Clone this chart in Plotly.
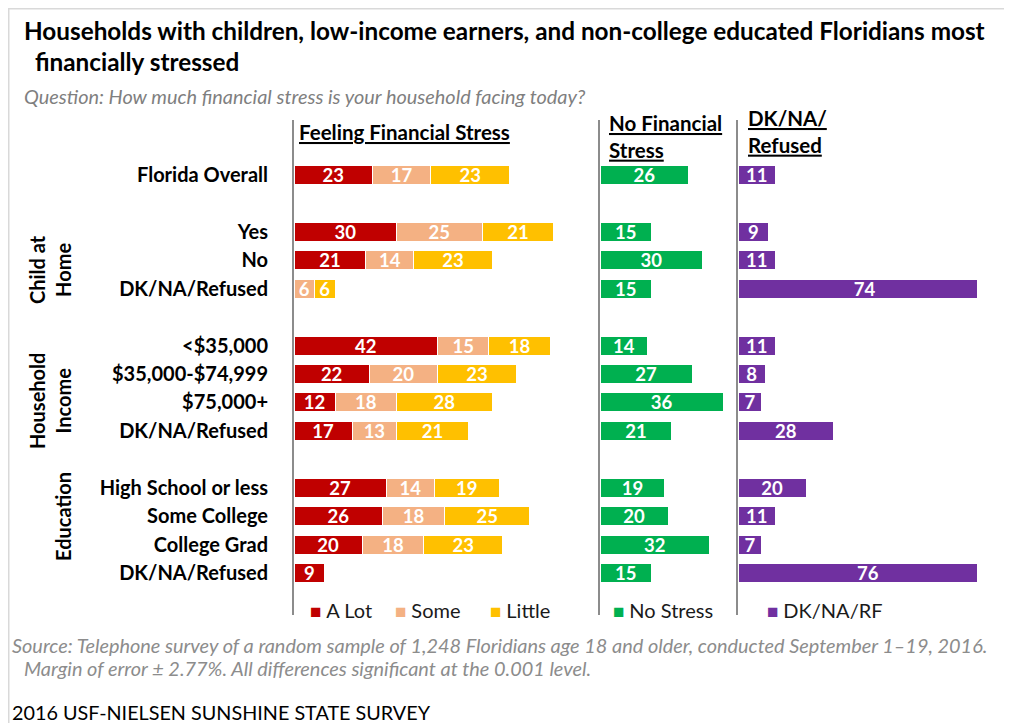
import plotly.graph_objects as go

# ---------------- data ----------------
groups = ["", "Child at Home", "Household Income", "Education"]
group_members = [
    ["Florida Overall"],
    ["Yes", "No", "DK/NA/Refused"],
    ["<$35,000", "$35,000-$74,999", "$75,000+", "DK/NA/Refused"],
    ["High School or less", "Some College", "College Grad", "DK/NA/Refused"],
]
a_lot = [23, 30, 21, 0, 42, 22, 12, 17, 27, 26, 20, 9]
some = [17, 25, 14, 6, 15, 20, 18, 13, 14, 18, 18, 0]
little = [23, 21, 23, 6, 18, 23, 28, 21, 19, 25, 23, 0]
no_stress = [26, 15, 30, 15, 14, 27, 36, 21, 19, 20, 32, 15]
dk_na_rf = [11, 9, 11, 74, 11, 8, 7, 28, 20, 11, 7, 76]

series_names = ["A Lot", "Some", "Little", "No Stress", "DK/NA/RF"]
colors = ["#C00000", "#F4B183", "#FFC000", "#00B050", "#7030A0"]

# ---------------- layout helpers ----------------
OFF = 8  # page body margin
W, H = 1012 - OFF, 723 - OFF
FONT = "Lato"


def px(x):
    return (x - OFF) / W


def py(y):
    return 1 - (y - OFF) / H


# compute row positions: one empty slot between groups
labels, pos = [], []
slot = 0
for gi, members in enumerate(group_members):
    if gi > 0:
        slot += 1
    for m in members:
        labels.append(m)
        pos.append(slot)
        slot += 1

row0_px, row_step = 175.0, 28.43
top_px, bot_px = 120.0, 615.0
y_range = [(bot_px - row0_px) / row_step, (top_px - row0_px) / row_step]
y_dom = [py(bot_px), py(top_px)]
scale = 3.42  # px per percent


def txt(vals):
    return [str(v) if v else "" for v in vals]


fig = go.Figure()
bar_common = dict(orientation="h", width=0.67, textposition="inside", textangle=0,
                  insidetextanchor="middle", constraintext="none",
                  textfont=dict(family=FONT, size=18.5, color="white", weight="bold"),
                  marker_line=dict(color="white", width=1), showlegend=False,
                  hoverinfo="x+name")

for vals, name, col in zip([a_lot, some, little], series_names[:3], colors[:3]):
    fig.add_trace(go.Bar(x=vals, y=pos, name=name, text=txt(vals),
                         marker_color=col, xaxis="x", yaxis="y", **bar_common))
fig.add_trace(go.Bar(x=no_stress, y=pos, name=series_names[3], text=txt(no_stress),
                     marker_color=colors[3], xaxis="x2", yaxis="y2", **bar_common))
fig.add_trace(go.Bar(x=dk_na_rf, y=pos, name=series_names[4], text=txt(dk_na_rf),
                     marker_color=colors[4], xaxis="x3", yaxis="y3", **bar_common))

panels = [(294, 580), (600, 727), (738, 977)]
axis_line = dict(showline=True, linecolor="#8c8c8c", linewidth=2, showgrid=False,
                 zeroline=False, range=y_range, domain=y_dom, fixedrange=True)
ticktext = [l.replace("<", "&lt;") for l in labels]

layout = dict(
    width=W, height=H, margin=dict(l=0, r=0, t=0, b=0),
    paper_bgcolor="white", plot_bgcolor="white", barmode="stack",
    font=dict(family=FONT, color="#000000"),
)
for i, (a, b) in enumerate(panels):
    sfx = "" if i == 0 else str(i + 1)
    layout["xaxis" + sfx] = dict(domain=[px(a), px(b)], range=[0, (b - a) / scale],
                                 visible=False, anchor="y" + sfx, fixedrange=True)
    ya = dict(axis_line, anchor="x" + sfx)
    if i == 0:
        ya.update(tickmode="array", tickvals=pos, ticktext=ticktext, ticks="",
                  ticklabelstandoff=20, automargin=False,
                  tickfont=dict(family=FONT, size=20, color="#000", weight="bold"))
    else:
        ya.update(showticklabels=False, matches="y")
    layout["yaxis" + sfx] = ya
fig.update_layout(**layout)

ann = []


def add(text, x, y, size, color="#000", bold=False, italic=False, xanchor="left",
        yanchor="middle", angle=0, align="left"):
    ann.append(dict(text=text, x=px(x), y=py(y), xref="paper", yref="paper",
                    xanchor=xanchor, yanchor=yanchor, showarrow=False, textangle=angle,
                    align=align,
                    font=dict(family=FONT, size=size, color=color,
                              weight="bold" if bold else "normal",
                              style="italic" if italic else "normal")))


add("Households with children, low-income earners, and non-college educated Floridians most",
    22, 30, 24.3, bold=True)
add("financially stressed", 33, 61, 24.3, bold=True)
add("Question: How much financial stress is your household facing today?", 22, 96, 19.9,
    color="#7f7f7f", italic=True)

add("<u>Feeling Financial Stress</u>", 297, 132, 20.5, bold=True)
add("<u>No Financial</u><br><u>Stress</u>", 607, 136, 20.5, bold=True)
add("<u>DK/NA/</u><br><u>Refused</u>", 746, 132, 20.5, bold=True)

# group labels (rotated)
group_centers = {"Child at Home": (50, 270, "Child at<br>Home"),
                 "Household Income": (50, 401, "Household<br>Income"),
                 "Education": (63, 517, "Education")}
for g in groups[1:]:
    x, y, t = group_centers[g]
    add(t, x, y, 20, bold=True, xanchor="center", angle=-90, align="center")

# legend
legend_x = [308, 393, 488, 611, 765]
for name, col, x in zip(series_names, colors, legend_x):
    add(f"<span style='color:{col};font-size:19px'>■ </span>{name}", x, 610, 20, color="#1a1a1a")

add("Source: Telephone survey of a random sample of 1,248 Floridians age 18 and older, conducted September 1\u201319, 2016.",
    10, 645, 19.9, color="#8c8c8c", italic=True)
add("Margin of error \u00b1 2.77%. All differences significant at the 0.001 level.",
    22, 668, 19.9, color="#8c8c8c", italic=True)
add("2016 USF-NIELSEN SUNSHINE STATE SURVEY", 10, 712, 19.8, color="#000")

fig.update_layout(annotations=ann)
fig.update_layout(shapes=[
    dict(type="line", xref="paper", yref="paper", x0=0, x1=1, y0=1, y1=1,
         line=dict(color="#d9d9d9", width=3)),
    dict(type="line", xref="paper", yref="paper", x0=0, x1=0, y0=1, y1=0,
         line=dict(color="#d9d9d9", width=3)),
])

fig.write_html("out.html")
